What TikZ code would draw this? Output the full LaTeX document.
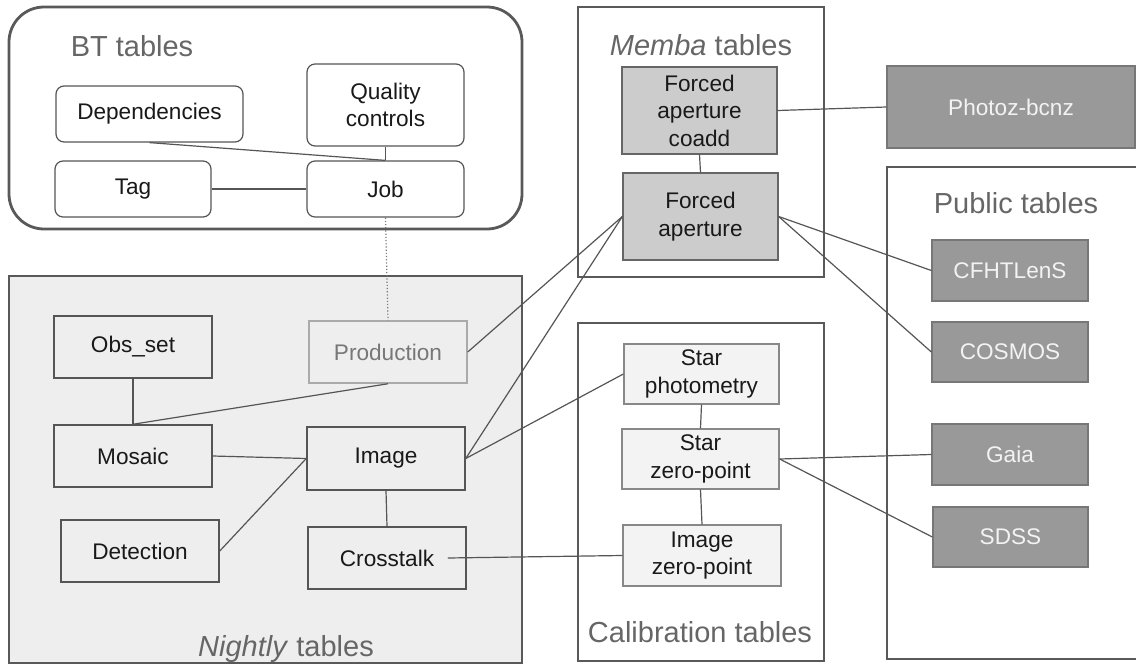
\documentclass[tikz,border=0pt]{standalone}
\usepackage{fontspec}
\setmainfont{Liberation Sans}
\definecolor{grpc}{HTML}{595959}
\definecolor{linec}{HTML}{555555}
\definecolor{titlec}{HTML}{666666}
\definecolor{nightbg}{HTML}{EEEEEE}
\definecolor{membafill}{HTML}{CCCCCC}
\definecolor{calfill}{HTML}{F3F3F3}
\definecolor{pubfill}{HTML}{999999}
\definecolor{pubtext}{HTML}{F3F3F3}
\definecolor{prodc}{HTML}{AAAAAA}
\definecolor{prodtext}{HTML}{777777}
\newcommand\nodefont{\fontsize{22.6}{27.5}\selectfont}
\newcommand\grptitlefont{\fontsize{29}{34}\selectfont}
\tikzset{
  sz/.style 2 args={minimum width=#1pt, minimum height=#2pt},
  grp/.style={draw=grpc, line width=2.8pt, inner sep=0pt},
  grptitle/.style={text=titlec, font=\grptitlefont, inner sep=0pt},
  basebox/.style={inner sep=0pt, align=center, font=\nodefont, text=black!90},
  btbox/.style={basebox, draw=linec, line width=1.2pt, rounded corners=8pt, fill=white},
  nightbox/.style={basebox, draw=linec, line width=1.5pt},
  prodbox/.style={basebox, draw=prodc, line width=1.5pt, text=prodtext},
  membabox/.style={basebox, draw=linec!90, line width=1.3pt, fill=membafill},
  calbox/.style={basebox, draw=linec!70, line width=1.3pt, fill=calfill},
  pubbox/.style={basebox, draw=linec!80, line width=1.3pt, fill=pubfill, text=pubtext},
  conn/.style={draw=linec, line width=1.2pt},
  dotconn/.style={draw=linec!80, line width=1.2pt, dotted},
}
\begin{document}
\begin{tikzpicture}[x=1pt, y=-1pt]
\useasboundingbox (0,0) rectangle (1136,664);
\clip (0,0) rectangle (1136,664);

% group boxes
\node[grp, rounded corners=35pt, sz={513}{222}] (btgrp) at (265.5,118) {};
\node[grp, fill=nightbg, sz={513}{387}] (nightgrp) at (265.5,469.5) {};
\node[grp, sz={246}{270}] (membagrp) at (701,142) {};
\node[grp, sz={246}{338}] (calgrp) at (701,492) {};
\node[grp, sz={253}{492}] (pubgrp) at (1013.5,413) {};

% group titles
\node[grptitle] (bttitle) at (132,46) {BT tables};
\node[grptitle] (membatitle) at (701,45) {\textit{Memba} tables};
\node[grptitle] (pubtitle) at (1016,203) {Public tables};
\node[grptitle] (caltitle) at (700,632) {Calibration tables};
\node[grptitle] (nighttitle) at (286,649) {\textit{Nightly} tables};

% BT nodes
\node[btbox, sz={187}{56}] (dep) at (149.5,114) {Dependencies};
\node[btbox, sz={157}{82}] (qual) at (385.5,105) {Quality\\controls};
\node[btbox, sz={156}{56}] (tag) at (133,189) {Tag};
\node[btbox, sz={157}{56}] (job) at (385.5,189) {Job};

% Nightly nodes
\node[nightbox, sz={158}{62}] (obs) at (133,347) {Obs\_set};
\node[prodbox, sz={158}{62}] (prod) at (388,352) {Production};
\node[nightbox, sz={158}{62}] (mosaic) at (133,456) {Mosaic};
\node[nightbox, sz={158}{63}] (image) at (386,458.5) {Image};
\node[nightbox, sz={158}{62}] (detect) at (140,551) {Detection};
\node[nightbox, sz={158}{62}] (cross) at (387,558) {Crosstalk};

% Memba nodes
\node[membabox, sz={155}{87}] (fac) at (699.5,110.5) {Forced\\aperture\\coadd};
\node[membabox, sz={155}{87}] (fa) at (700.5,216.5) {Forced\\aperture};

% Calibration nodes
\node[calbox, sz={155}{60}] (sp) at (701.5,374) {Star\\photometry};
\node[calbox, sz={157}{60}] (szp) at (700.5,459) {Star\\zero-point};
\node[calbox, sz={158}{61}] (izp) at (702,555.5) {Image\\zero-point};

% Public nodes
\node[pubbox, sz={248}{82}] (photoz) at (1011,107) {Photoz-bcnz};
\node[pubbox, sz={156}{61}] (cfht) at (1010,270.5) {CFHTLenS};
\node[pubbox, sz={156}{60}] (cosmos) at (1010,352) {COSMOS};
\node[pubbox, sz={156}{61}] (gaia) at (1010,454.5) {Gaia};
\node[pubbox, sz={155}{60}] (sdss) at (1010.5,537) {SDSS};

% connectors
\draw[conn] (dep.south) -- (job.north);
\draw[conn] (qual.south) -- (job.north);
\draw[conn] (tag.east) -- (job.west);
\draw[dotconn] (job.south) -- (prod.north);
\draw[conn] (obs.south) -- (mosaic.north);
\draw[conn] (prod.south) -- (mosaic.north);
\draw[conn] (mosaic.east) -- (image.west);
\draw[conn] (detect.east) -- (image.west);
\draw[conn] (image.south) -- (cross.north);
\draw[conn] ([xshift=-19pt]cross.east) -- (izp.west);
\draw[conn] (prod.east) -- (fa.west);
\draw[conn] (image.east) -- (fa.west);
\draw[conn] (image.east) -- (sp.west);
\draw[conn] (fac.south) -- (fa.north);
\draw[conn] (fac.east) -- (photoz.west);
\draw[conn] (fa.east) -- (cfht.west);
\draw[conn] (fa.east) -- (cosmos.west);
\draw[conn] (sp.south) -- (szp.north);
\draw[conn] (szp.south) -- (izp.north);
\draw[conn] (szp.east) -- (gaia.west);
\draw[conn] (szp.east) -- (sdss.west);
\end{tikzpicture}
\end{document}
